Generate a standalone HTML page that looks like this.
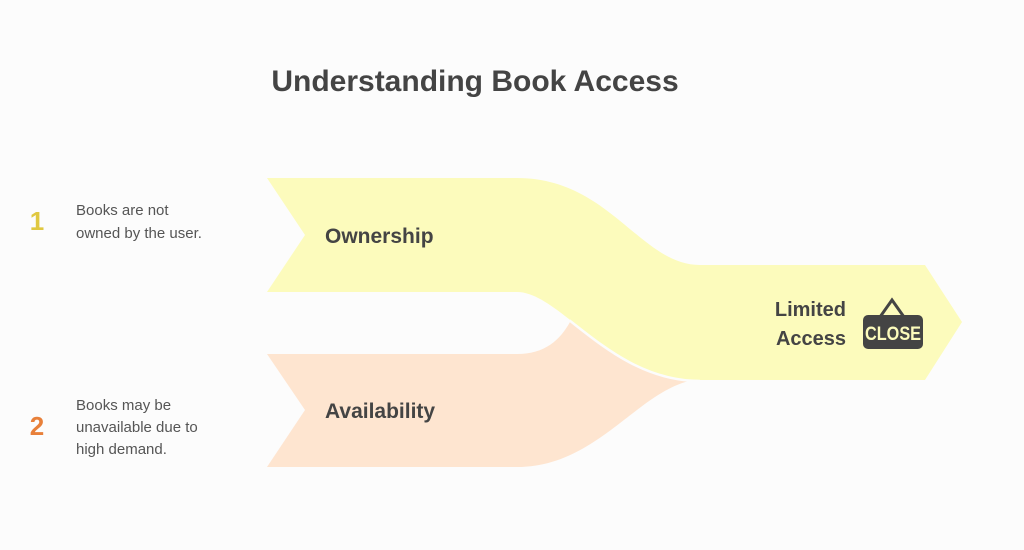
<!DOCTYPE html>
<html><head><meta charset="utf-8"><style>
body{margin:0;background:#fcfcfc;}
svg{display:block}
text{font-family:"Liberation Sans",sans-serif;}
</style></head><body>
<svg width="1024" height="550" viewBox="0 0 1024 550">
<defs><clipPath id="c"><rect x="570" y="300" width="140" height="90"/></clipPath></defs>
<rect width="1024" height="550" fill="#fcfcfc"/>
<text x="475" y="91" text-anchor="middle" font-size="30" font-weight="bold" fill="#444">Understanding Book Access</text>
<path d="M267,354 L517,354 C545,354 560,340 570,322 L700,379 C640,385 600,467 517,467 L267,467 L305,410 Z" fill="#fee5d0"/>
<path d="M267,178 L517,178 C610,178 640,265 700,265 L925,265 L962,322 L925,380 L700,380 C610,380 560,292 517,292 L267,292 L305,235 Z" fill="#fcfbbc"/>
<path d="M517,293 C560,293 610,381 700,381" fill="none" stroke="#fcfcfc" stroke-width="2.5" clip-path="url(#c)"/>
<text x="325" y="243" font-size="21" font-weight="bold" fill="#444">Ownership</text>
<text x="325" y="418" font-size="21" font-weight="bold" fill="#444">Availability</text>
<text x="846" y="316" text-anchor="end" font-size="20" font-weight="bold" fill="#444">Limited</text>
<text x="846" y="345" text-anchor="end" font-size="20" font-weight="bold" fill="#444">Access</text>
<path d="M880,317 L892,300 L904,317" fill="none" stroke="#444" stroke-width="3"/>
<rect x="863" y="315" width="60" height="34" rx="5" fill="#444"/>
<text x="893" y="340" text-anchor="middle" font-size="19" font-weight="bold" fill="#fcfbbc" textLength="56" lengthAdjust="spacingAndGlyphs">CLOSE</text>
<text x="37" y="230" text-anchor="middle" font-size="26" font-weight="bold" fill="#e0c840">1</text>
<text x="37" y="435" text-anchor="middle" font-size="26" font-weight="bold" fill="#e8803a">2</text>
<g font-size="15" fill="#555">
<text x="76" y="215">Books are not</text>
<text x="76" y="238">owned by the user.</text>
<text x="76" y="410">Books may be</text>
<text x="76" y="432">unavailable due to</text>
<text x="76" y="454">high demand.</text>
</g>
</svg>
</body></html>
